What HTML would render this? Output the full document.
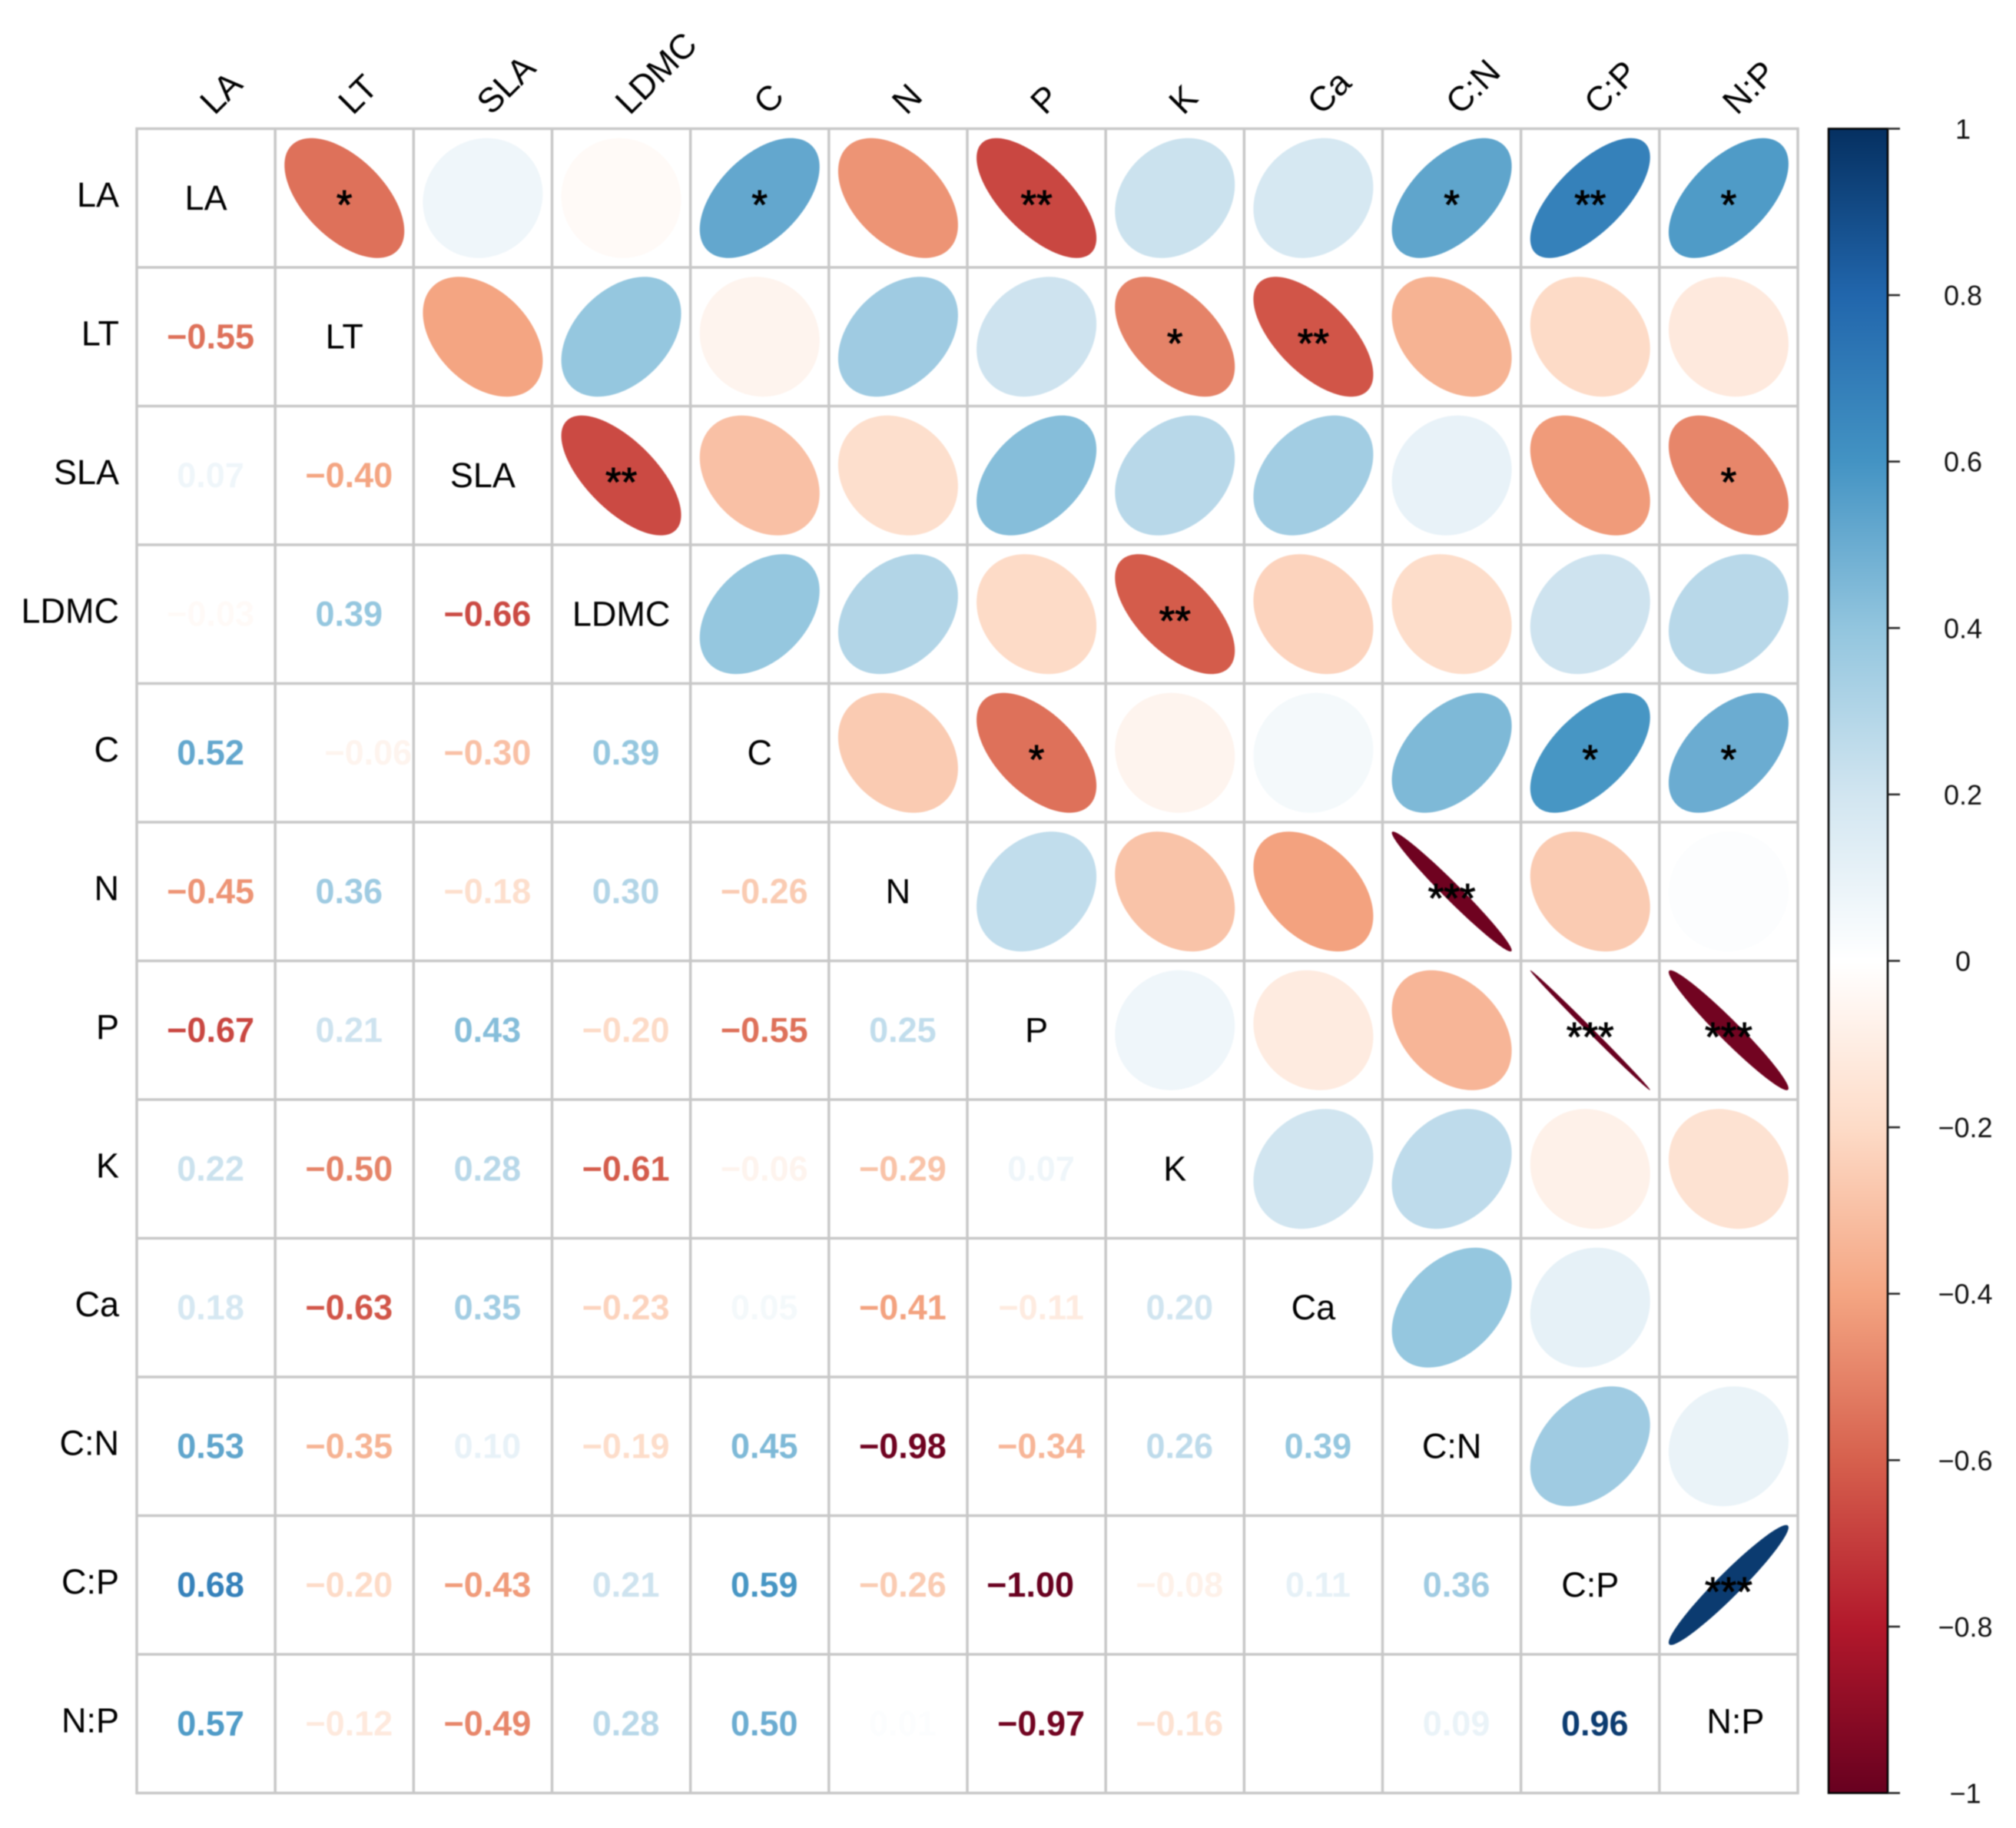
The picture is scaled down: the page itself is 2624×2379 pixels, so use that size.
<!DOCTYPE html>
<html lang="en">
<head>
<meta charset="utf-8">
<title>Leaf trait correlation matrix</title>
<style>
html,body{margin:0;padding:0;background:#fff;width:2624px;height:2379px;overflow:hidden}
svg{display:block;filter:blur(0.8px)}
text{font-family:"Liberation Sans",Arial,sans-serif}
</style>
</head>
<body>
<svg id="chart" xmlns="http://www.w3.org/2000/svg" width="2624" height="2379" viewBox="0 0 2624 2379">
<rect width="2624" height="2379" fill="#fff"/>
<g id="cells"></g>
<g id="grid"></g>
<g id="labels"></g>
<g id="stars"></g>
<g id="colorbar"></g>
</svg>
<script>
const traits = ["LA","LT","SLA","LDMC","C","N","P","K","Ca","C:N","C:P","N:P"];
const correlations = [
  [],
  [-0.55],
  [0.07,-0.40],
  [-0.03,0.39,-0.66],
  [0.52,-0.06,-0.30,0.39],
  [-0.45,0.36,-0.18,0.30,-0.26],
  [-0.67,0.21,0.43,-0.20,-0.55,0.25],
  [0.22,-0.50,0.28,-0.61,-0.06,-0.29,0.07],
  [0.18,-0.63,0.35,-0.23,0.05,-0.41,-0.11,0.20],
  [0.53,-0.35,0.10,-0.19,0.45,-0.98,-0.34,0.26,0.39],
  [0.68,-0.20,-0.43,0.21,0.59,-0.26,-0.998,-0.08,0.11,0.36],
  [0.57,-0.12,-0.49,0.28,0.50,0.014,-0.97,-0.16,0.00,0.09,0.96]
];
const starCounts = [
  [],
  [1],
  [0,0],
  [0,0,2],
  [1,0,0,0],
  [0,0,0,0,0],
  [2,0,0,0,1,0],
  [0,1,0,2,0,0,0],
  [0,2,0,0,0,0,0,0],
  [1,0,0,0,0,3,0,0,0],
  [2,0,0,0,1,0,3,0,0,0],
  [1,0,1,0,1,0,3,0,0,0,3]
];
const colorbarTicks = [1,0.8,0.6,0.4,0.2,0,-0.2,-0.4,-0.6,-0.8,-1];
const paletteStops = ["#67001F","#B2182B","#D6604D","#F4A582","#FDDBC7","#FFFFFF","#D1E5F0","#92C5DE","#4393C3","#2166AC","#053061"];

const NS = "http://www.w3.org/2000/svg";
const gridLeft = 178, gridRight = 2340, gridTop = 167.5, gridBottom = 2333.5;
const n = traits.length;
const cellW = (gridRight - gridLeft) / n;
const cellH = (gridBottom - gridTop) / n;
const colX = i => gridLeft + (i + 0.5) * cellW;
const rowY = i => gridTop + (i + 0.5) * cellH;
const barLeft = 2380, barRight = 2457, barTickEnd = 2473;
const barY = v => gridTop + (1 - v) / 2 * (gridBottom - gridTop);

function hexRgb(h){return [1,3,5].map(i=>parseInt(h.substr(i,2),16));}
function colorFor(v){
  const t = Math.max(0, Math.min(1, (v + 1) / 2)) * (paletteStops.length - 1);
  const i = Math.min(Math.floor(t), paletteStops.length - 2), f = t - i;
  const a = hexRgb(paletteStops[i]), b = hexRgb(paletteStops[i + 1]);
  return "rgb(" + a.map((c, k) => Math.round(c + (b[k] - c) * f)).join(",") + ")";
}
function make(tag, attrs, parent, content){
  const el = document.createElementNS(NS, tag);
  for (const k in attrs) el.setAttribute(k, attrs[k]);
  if (content !== undefined) el.textContent = content;
  parent.appendChild(el);
  return el;
}
function ellipsePoints(r, cx, cy, scale){
  const d = Math.acos(r), pts = [];
  for (let k = 0; k < 120; k++){
    const t = k / 120 * 2 * Math.PI;
    pts.push((cx + scale * Math.cos(t + d / 2)).toFixed(2) + "," + (cy - scale * Math.cos(t - d / 2)).toFixed(2));
  }
  return pts.join(" ");
}
function fmt(v){
  const s = Math.abs(v).toFixed(2);
  return (v < 0 ? "\u2212" : "") + s;
}
function slug(s){return s.toLowerCase().replace(":","-");}
/* the source figure has two printed values drawn off-centre */
function valueNudge(r, c){
  if (r === 4 && c === 1) return 25;
  if (r === 10 && c === 6) return -14;
  return 0;
}

const cellsG = document.getElementById("cells");
const gridG = document.getElementById("grid");
const labelsG = document.getElementById("labels");
const starsG = document.getElementById("stars");
const barG = document.getElementById("colorbar");

/* lower triangle values, upper triangle ellipses + stars */
for (let r = 0; r < n; r++){
  for (let c = 0; c < r; c++){
    const v = correlations[r][c];
    const num = make("text", {x: colX(c) + 6 + valueNudge(r, c), y: rowY(r) + 15, "text-anchor": "middle", "font-size": 45, "font-weight": "bold", fill: colorFor(v)}, labelsG, fmt(v));
    
    

    const ell = make("polygon", {points: ellipsePoints(v, colX(r), rowY(c), 78), fill: colorFor(v)}, cellsG);
    
    

    const sc = starCounts[r][c];
    if (sc > 0){
      const st = make("text", {x: colX(r), y: rowY(c) + 26.5, "text-anchor": "middle", "font-size": 53, fill: "#000", stroke: "#000", "stroke-width": 1}, starsG, "*".repeat(sc));
      
      
    }
  }
}

/* grid */
for (let i = 0; i <= n; i++){
  const x = gridLeft + i * cellW, y = gridTop + i * cellH;
  const vl = make("line", {x1: x, x2: x, y1: gridTop - 1.5, y2: gridBottom + 1.5, stroke: "#c8c8c8", "stroke-width": 3.5}, gridG);
  
  
  const hl = make("line", {x1: gridLeft - 1.5, x2: gridRight + 1.5, y1: y, y2: y, stroke: "#c8c8c8", "stroke-width": 3.5}, gridG);
  
  
}

/* labels */
traits.forEach((name, i) => {
  const isLast = i === n - 1;
  const diag = make("text", {x: colX(i) + (isLast ? 9 : 0), y: rowY(i) + (isLast ? 12 : 15), "text-anchor": "middle", "font-size": 45, fill: "#000"}, labelsG, name);
  
  

  const rowLab = make("text", {x: 155, y: rowY(i) + 11, "text-anchor": "end", "font-size": 45, fill: "#000"}, labelsG, name);
  
  

  const tx = colX(i) + 11, ty = 151;
  const colLab = make("text", {x: tx, y: ty, "text-anchor": "start", "font-size": 45, fill: "#000", transform: "rotate(-45 " + tx + " " + ty + ")"}, labelsG, name);
  
  
});

/* colour bar */
const defs = make("defs", {}, barG);
const grad = make("linearGradient", {id: "rdbu", x1: 0, y1: 0, x2: 0, y2: 1}, defs);
paletteStops.slice().reverse().forEach((col, i) => {
  make("stop", {offset: i / (paletteStops.length - 1), "stop-color": col}, grad);
});
const barRect = make("rect", {x: barLeft, y: gridTop, width: barRight - barLeft, height: gridBottom - gridTop, fill: "url(#rdbu)", stroke: "#000", "stroke-width": 2.5}, barG);


colorbarTicks.forEach(v => {
  const y = barY(v);
  const tick = make("line", {x1: barRight, x2: barTickEnd, y1: y, y2: y, stroke: "#222", "stroke-width": 2.5}, barG);
  
  
  const lab = make("text", {x: v < 0 ? 2558 : 2555, y: y + 13, "text-anchor": "middle", "font-size": 36, fill: "#111"}, barG, (v < 0 ? "\u2212" : "") + Math.abs(v));
  
  
});
</script>
</body>
</html>
